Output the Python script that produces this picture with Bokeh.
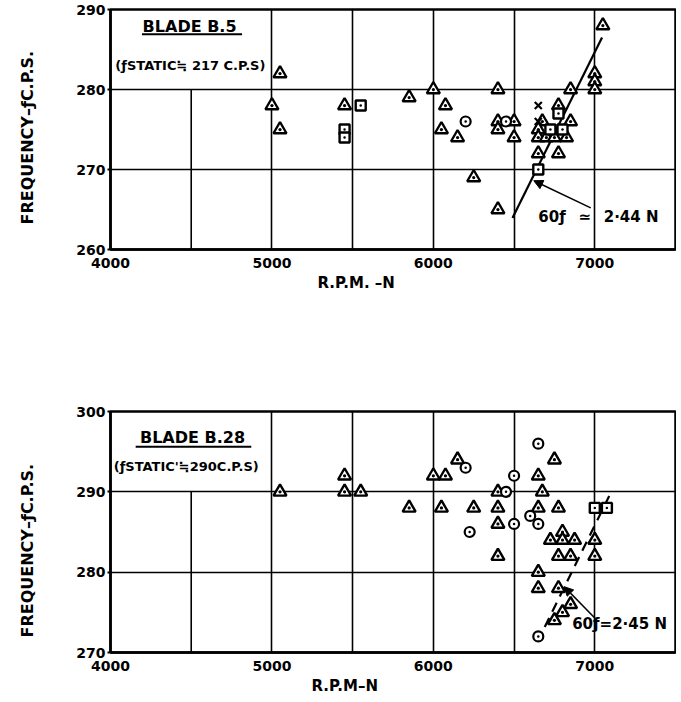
import numpy as np
from bokeh.plotting import figure
from bokeh.layouts import column
from bokeh.models import Range1d, FixedTicker, Label, Arrow, NormalHead, Title
from bokeh.embed import file_html
from bokeh.resources import INLINE

# ---------------- data ----------------
# Blade B.5 (top chart)
b5_tri_n = [5050, 5000, 5050, 5450, 5850, 6000, 6075, 6050, 6150, 6250, 6400, 6400,
            6500, 6400, 6500, 6400, 6675, 6650, 6650, 6650, 6775, 6850, 6700, 6750,
            6825, 6775, 6850, 7000, 7000, 7000, 7050]
b5_tri_f = [282, 278, 275, 278, 279, 280, 278, 275, 274, 269, 280, 276,
            276, 275, 274, 265, 276, 275, 274, 272, 278, 276, 274, 274,
            274, 272, 280, 282, 281, 280, 288]
b5_sq_n = [5550, 5450, 5450, 6650, 6775, 6725, 6800]
b5_sq_f = [278, 275, 274, 270, 277, 275, 275]
b5_circ_n = [6200, 6450]
b5_circ_f = [276, 276]
b5_x_n = [6650, 6650]
b5_x_f = [278, 276]
b5_line_n = [6490, 7045]
b5_coef = 2.44

# Blade B.28 (bottom chart)
b28_tri_n = [5050, 5450, 5450, 5550, 5850, 6000, 6075, 6150, 6050, 6250, 6400, 6400,
             6400, 6400, 6750, 6650, 6675, 6650, 6775, 6800, 6725, 6800, 6875, 7000,
             6775, 6850, 7000, 6650, 6650, 6775, 6850, 6800, 6750]
b28_tri_f = [290, 292, 290, 290, 288, 292, 292, 294, 288, 288, 290, 288,
             286, 282, 294, 292, 290, 288, 288, 285, 284, 284, 284, 284,
             282, 282, 282, 280, 278, 278, 276, 275, 274]
b28_circ_n = [6200, 6225, 6450, 6500, 6500, 6600, 6650, 6650, 6650]
b28_circ_f = [293, 285, 290, 286, 292, 287, 286, 296, 272]
b28_sq_n = [7000, 7075]
b28_sq_f = [288, 288]
b28_line_n = [6690, 7090]
b28_coef = 2.45

x_tick_labels = [4000, 5000, 6000, 7000]
x_grid = [5000, 5500, 6000, 6500, 7000]
b5_y_ticks = [260, 270, 280, 290]
b28_y_ticks = [270, 280, 290, 300]

FONT = "DejaVu Sans"
W = 676


def make_fig(height, yr, yticks, ygrid, bt, bb, bl, br):
    p = figure(width=W, height=height, x_range=Range1d(4000, 7500), y_range=Range1d(*yr),
               output_backend="svg", toolbar_location=None,
               min_border_top=bt, min_border_bottom=bb, min_border_left=bl, min_border_right=br)
    p.background_fill_color = "white"
    p.border_fill_color = "white"
    p.outline_line_color = "black"
    p.outline_line_width = 2.5
    p.xaxis.ticker = FixedTicker(ticks=x_tick_labels)
    p.yaxis.ticker = FixedTicker(ticks=yticks)
    p.xgrid.ticker = FixedTicker(ticks=x_grid)
    p.ygrid.ticker = FixedTicker(ticks=ygrid)
    for g in (p.xgrid, p.ygrid):
        g.grid_line_color = "black"
        g.grid_line_width = 1.6
        g.grid_line_alpha = 1.0
    for ax in (p.xaxis, p.yaxis):
        ax.axis_line_width = 2.5
        ax.axis_line_color = "black"
        ax.major_tick_line_width = 2
        ax.major_tick_line_color = "black"
        ax.minor_tick_line_color = None
        ax.major_label_text_font = FONT
        ax.major_label_text_font_style = "bold"
        ax.major_label_text_font_size = "14px"
        ax.major_label_text_color = "black"
    p.xaxis.major_tick_out = 0
    p.xaxis.major_tick_in = 0
    p.xaxis.major_label_standoff = 8
    p.yaxis.major_tick_out = 3
    p.yaxis.major_tick_in = 0
    p.yaxis.major_label_standoff = 2
    return p


def add_label(p, x, y, text, size="13px", align="left", angle=0.0):
    p.add_layout(Label(x=x, y=y, text=text, text_font=FONT, text_font_style="bold",
                       text_font_size=size, text_color="black", text_align=align,
                       text_baseline="middle", angle=angle))


def add_title(p, text, side, offset, standoff, size="15px"):
    p.add_layout(Title(text=text, align="left", offset=offset, standoff=standoff,
                       text_font=FONT, text_font_style="bold", text_font_size=size,
                       text_color="black"), side)


def add_ylabel(p, text, offset):
    # spacer panel that pushes the rotated label away from the tick labels
    p.add_layout(Title(text=" ", standoff=32, text_font_size="2px", text_color="white"), "left")
    add_title(p, text, "left", offset, 2, size="16px")


def markers(p, tri, circ, sq, xs=None):
    p.scatter(tri[0], tri[1], marker="triangle_dot", size=13, fill_color="white",
              line_color="black", line_width=2.4)
    if sq:
        p.scatter(sq[0], sq[1], marker="square_dot", size=10, fill_color="white",
                  line_color="black", line_width=2.4)
    if circ:
        p.scatter(circ[0], circ[1], marker="circle_dot", size=10, fill_color="white",
                  line_color="black", line_width=2.2)
    if xs:
        p.scatter(xs[0], xs[1], marker="x", size=10, line_color="black", line_width=2.2)


# ---------------- top chart ----------------
top = make_fig(298, (260, 290), b5_y_ticks, [270, 280], 9, 49, 108, 1)
top.segment(x0=[4500], y0=[260], x1=[4500], y1=[280], line_color="black", line_width=1.6)
ln = np.array(b5_line_n, dtype=float)
top.line(ln, b5_coef * ln / 60.0, line_color="black", line_width=2.2)
markers(top, (b5_tri_n, b5_tri_f), (b5_circ_n, b5_circ_f), (b5_sq_n, b5_sq_f), (b5_x_n, b5_x_f))
add_label(top, 4490, 287.9, "BLADE B.5", size="16px", align="center")
top.segment(x0=[4195], y0=[286.9], x1=[4815], y1=[286.9], line_color="black", line_width=2)
add_label(top, 4030, 283.0, "(ƒSTATIC≒ 217 C.P.S)", size="13px")
add_label(top, 6650, 264.1, "60ƒ \u2002≃\u2002 2·44 N", size="15px")
top.add_layout(Arrow(end=NormalHead(size=9, fill_color="black", line_color="black"),
                     x_start=6975, y_start=265.2, x_end=6622, y_end=268.6,
                     line_color="black", line_width=1.5))
add_title(top, "R.P.M. –N", "below", 207, 2)
add_ylabel(top, "FREQUENCY–ƒC.P.S.", 25)

# ---------------- bottom chart ----------------
bot = make_fig(398, (270, 300), b28_y_ticks, [280, 290], 113, 42, 110, 1)
bot.segment(x0=[4500], y0=[270], x1=[4500], y1=[290], line_color="black", line_width=1.6)
ln2 = np.array(b28_line_n, dtype=float)
bot.line(ln2, b28_coef * ln2 / 60.0, line_color="black", line_width=2.2, line_dash="10 7")
markers(bot, (b28_tri_n, b28_tri_f), (b28_circ_n, b28_circ_f), (b28_sq_n, b28_sq_f))
add_label(bot, 4508, 296.8, "BLADE B.28", size="16px", align="center")
bot.segment(x0=[4156], y0=[295.6], x1=[4872], y1=[295.6], line_color="black", line_width=2)
add_label(bot, 4020, 293.1, "(ƒSTATIC'≒290C.P.S)", size="13px")
add_label(bot, 6860, 273.5, "60ƒ=2·45 N", size="15px")
bot.add_layout(Arrow(end=NormalHead(size=9, fill_color="black", line_color="black"),
                     x_start=7000, y_start=274.3, x_end=6810, y_end=278.2,
                     line_color="black", line_width=1.5))
add_title(bot, "R.P.M–N", "below", 201, 3)
add_ylabel(bot, "FREQUENCY–ƒC.P.S.", 15)

layout = column(top, bot)
open("out.html", "w").write(file_html(layout, INLINE))
